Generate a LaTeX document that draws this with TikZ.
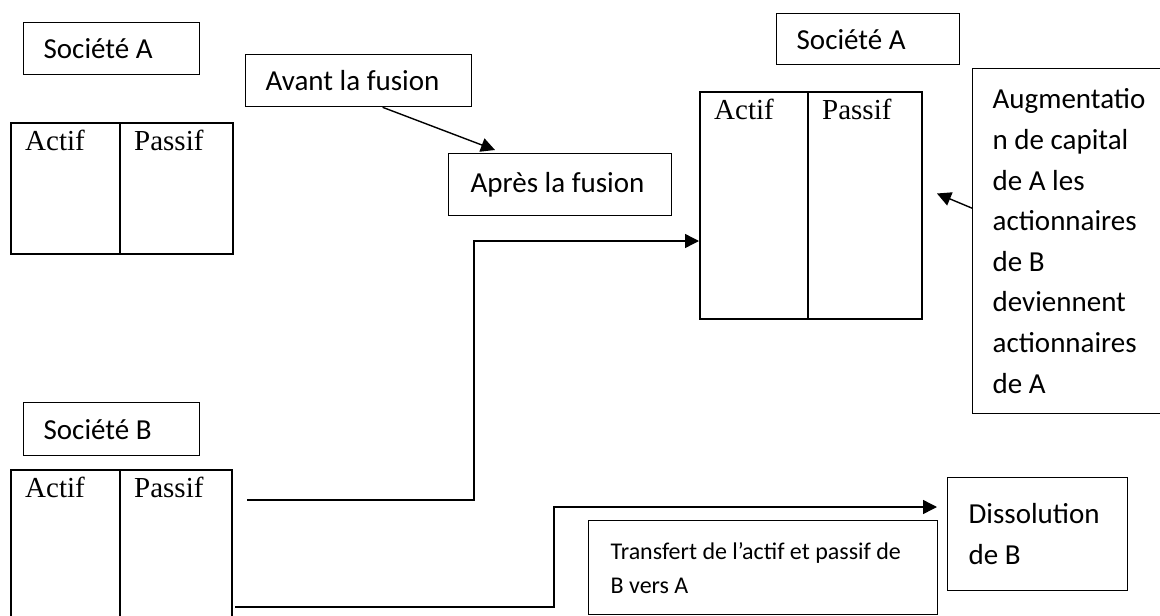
\documentclass[tikz,border=0pt]{standalone}
\usepackage{fontspec}
\setmainfont{Carlito}
\newfontfamily\timesfont{Liberation Serif}
\usepackage{tikz}
\usetikzlibrary{arrows.meta}
\tikzset{
  cadre/.style={draw, line width=1.3pt, anchor=north west, align=flush left,
    inner ysep=0pt, inner xsep=20pt, font=\fontsize{29}{40.6}\selectfont},
  colonne/.style={draw, line width=2pt, anchor=north west, inner sep=0pt},
  intitule/.style={anchor=north west, inner sep=0pt, xshift=15pt, yshift=-8pt,
    font=\timesfont\fontsize{29}{33}\selectfont},
  fleche/.style={line width=1.4pt, -{Triangle[length=14pt, width=14pt]}}
}

\begin{document}
\begin{tikzpicture}[x=1pt, y=-1pt]
\useasboundingbox (0,0) rectangle (1160,616);
% societe A avant
\node[cadre, text width=136pt, minimum height=52pt] (socA) at (23,22) {Société A};
\node[colonne, minimum width=109pt, minimum height=131pt, label={[intitule]north west:Actif}] (actifA) at (10,122) {};
\node[colonne, minimum width=113pt, minimum height=131pt, label={[intitule]north west:Passif}] (passifA) at (119,122) {};
% societe B
\node[cadre, text width=136pt, minimum height=53pt] (socB) at (23,402) {Société B};
\node[colonne, minimum width=109pt, minimum height=200pt, label={[intitule]north west:Actif}] (actifB) at (10,469) {};
\node[colonne, minimum width=112pt, minimum height=200pt, label={[intitule]north west:Passif}] (passifB) at (119,469) {};
% avant / apres
\node[cadre, text width=186pt, minimum height=52pt] (avant) at (245,54) {Avant la fusion};
\node[cadre, inner xsep=22pt, text width=179pt, minimum height=62pt] (apres) at (448,153) {Après la fusion};
\draw[fleche] ([xshift=24pt]avant.south) -- ([xshift=47pt, yshift=3pt]apres.north west);
% societe A apres
\node[cadre, text width=143pt, minimum height=51pt] (socA2) at (776,13) {Société A};
\node[colonne, minimum width=108pt, minimum height=227pt, label={[intitule]north west:Actif}] (actifA2) at (699,91) {};
\node[colonne, minimum width=114pt, minimum height=227pt, label={[intitule]north west:Passif}] (passifA2) at (807,91) {};
\node[cadre, text width=165pt, minimum height=345pt] (augm) at (972,68)
  {Augmentatio\\n de capital\\de A les\\actionnaires\\de B\\deviennent\\actionnaires\\de A};
\draw[fleche] ([yshift=33pt]augm.west) -- ([xshift=14pt, yshift=12pt]passifA2.east);
% transfert et dissolution
\node[cadre, inner xsep=22pt, text width=305pt, minimum height=94pt, font=\fontsize{24}{34}\selectfont] (transfert) at (588,520)
  {Transfert de l’actif et passif de\\B vers A};
\node[cadre, inner xsep=21pt, text width=138pt, minimum height=113pt] (dissol) at (947,477) {Dissolution\\de B};
\coordinate (d1) at (247,500);
\coordinate (c1) at (474,241);
\draw[fleche] (d1) -| (c1) -- (c1 -| actifA2.west);
\coordinate (d2) at (235,607);
\coordinate (c2) at (554,507);
\draw[fleche] (d2) -| (c2) -- ([xshift=-10pt]c2 -| dissol.west);
\end{tikzpicture}
\end{document}
